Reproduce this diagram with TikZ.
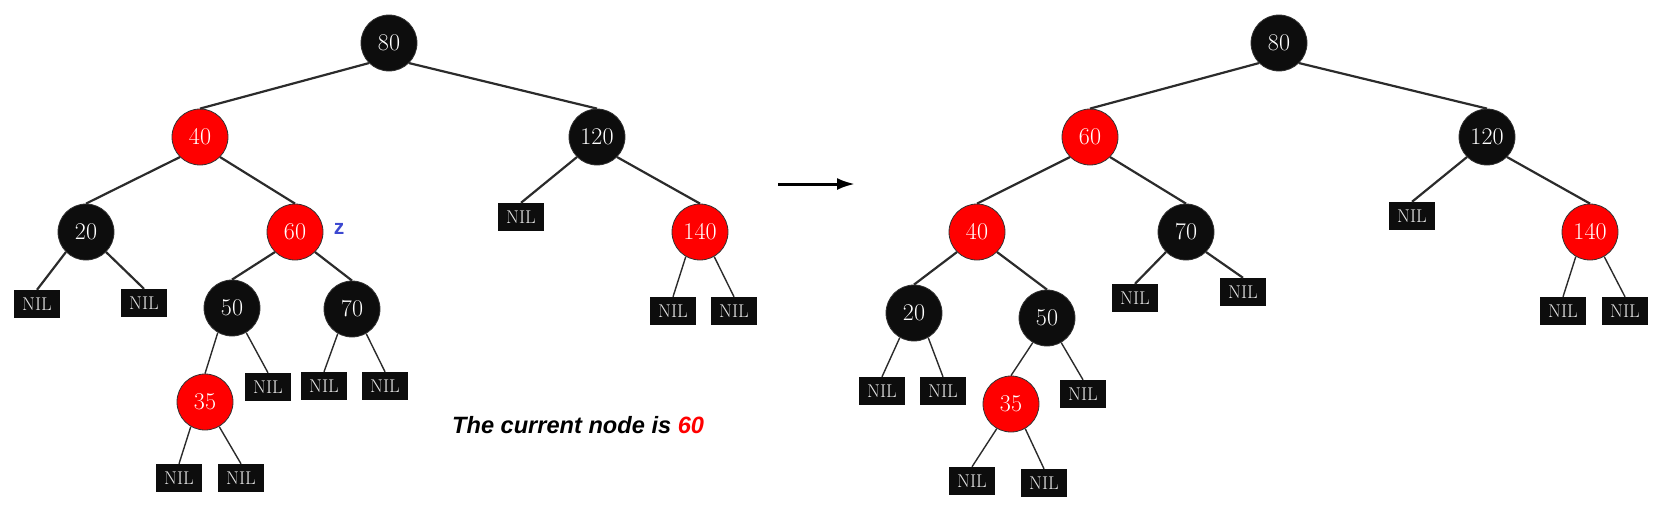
\documentclass[tikz,border=0pt]{standalone}
\usepackage{fontspec}
\newfontfamily\notefont{Liberation Sans}
\usetikzlibrary{positioning,arrows.meta}
\definecolor{nodeblk}{HTML}{0D0D0D}
\definecolor{nodered}{HTML}{FF0000}
\definecolor{zblue}{HTML}{3C48D0}
\definecolor{edgegray}{HTML}{2B2B2B}
\begin{document}
\begin{tikzpicture}[
    x=1pt, y=-1pt,
    rb-node/.style = {circle, draw=black!80, line width=0.8pt, minimum size=56pt, inner sep=0pt, text=white, font=\fontsize{24}{24}\selectfont},
    blk-node/.style = {rb-node, fill=nodeblk},
    red-node/.style = {rb-node, fill=nodered},
    nil-leaf/.style = {rectangle, fill=nodeblk, minimum width=46pt, minimum height=28pt, inner sep=0pt, text=black!10, font=\fontsize{18.5}{18.5}\selectfont},
    thick-edge/.style = {draw=edgegray, line width=2.2pt},
    thin-edge/.style = {draw=edgegray, line width=1.4pt},
    on grid
  ]
  \useasboundingbox (0,0) rectangle (1665,507);

  \node[blk-node] (l80) at (389,43) {80};
  \node[red-node, below left=94pt and 189pt of l80] (l40) {40};
  \node[blk-node, below right=94pt and 208pt of l80] (l120) {120};
  \node[blk-node, below left=95pt and 114pt of l40] (l20) {20};
  \node[red-node, below right=95pt and 95pt of l40] (l60) {60};
  \node[nil-leaf, below left=72pt and 49pt of l20] (l20a) {NIL};
  \node[nil-leaf, below right=71pt and 58pt of l20] (l20b) {NIL};
  \node[blk-node, below left=76pt and 63pt of l60] (l50) {50};
  \node[blk-node, below right=77pt and 57pt of l60] (l70) {70};
  \node[red-node, below left=94pt and 27pt of l50] (l35) {35};
  \node[nil-leaf, below right=79pt and 36pt of l50] (l50b) {NIL};
  \node[nil-leaf, below left=77pt and 28pt of l70] (l70a) {NIL};
  \node[nil-leaf, below right=77pt and 33pt of l70] (l70b) {NIL};
  \node[nil-leaf, below left=76pt and 26pt of l35] (l35a) {NIL};
  \node[nil-leaf, below right=76pt and 36pt of l35] (l35b) {NIL};
  \node[nil-leaf, below left=80pt and 76pt of l120] (l120a) {NIL};
  \node[red-node, below right=95pt and 103pt of l120] (l140) {140};
  \node[nil-leaf, below left=79pt and 27pt of l140] (l140a) {NIL};
  \node[nil-leaf, below right=79pt and 34pt of l140] (l140b) {NIL};
  \node[text=zblue, font=\notefont\bfseries\fontsize{21}{21}\selectfont, right=44pt of l60, yshift=3pt] (zmark) {z};

  \draw[thick-edge] (l80.south west) -- (l40.north);
  \draw[thick-edge] (l80.south east) -- (l120.north);
  \draw[thick-edge] (l40.south west) -- (l20.north);
  \draw[thick-edge] (l40.south east) -- (l60.north);
  \draw[thick-edge] (l20.south west) -- (l20a.north);
  \draw[thick-edge] (l20.south east) -- (l20b.north);
  \draw[thick-edge] (l60.south west) -- (l50.north);
  \draw[thick-edge] (l60.south east) -- (l70.north);
  \draw[thin-edge] (l50.240) -- (l35.north);
  \draw[thin-edge] (l50.300) -- (l50b.north);
  \draw[thin-edge] (l70.240) -- (l70a.north);
  \draw[thin-edge] (l70.300) -- (l70b.north);
  \draw[thin-edge] (l35.240) -- (l35a.north);
  \draw[thin-edge] (l35.300) -- (l35b.north);
  \draw[thick-edge] (l120.south west) -- (l120a.north);
  \draw[thick-edge] (l120.south east) -- (l140.north);
  \draw[thin-edge] (l140.240) -- (l140a.north);
  \draw[thin-edge] (l140.300) -- (l140b.north);

  \coordinate (step-from) at (778,184);
  \coordinate (step-to) at (855,184);
  \draw[-{Latex[length=18pt,width=12pt]}, line width=3pt] (step-from) -- (step-to);

  \node[anchor=base west, inner sep=0pt, font=\notefont\bfseries\itshape\fontsize{23.6}{24}\selectfont] (note) at (452,433) {The current node is \textcolor{nodered}{60}};

  \node[blk-node] (r80) at (1279,43) {80};
  \node[red-node, below left=94pt and 189pt of r80] (r60) {60};
  \node[blk-node, below right=94pt and 208pt of r80] (r120) {120};
  \node[red-node, below left=95pt and 113pt of r60] (r40) {40};
  \node[blk-node, below right=95pt and 96pt of r60] (r70) {70};
  \node[blk-node, below left=81pt and 63pt of r40] (r20) {20};
  \node[blk-node, below right=86pt and 70pt of r40] (r50) {50};
  \node[nil-leaf, below left=66pt and 51pt of r70] (r70a) {NIL};
  \node[nil-leaf, below right=60pt and 57pt of r70] (r70b) {NIL};
  \node[nil-leaf, below left=78pt and 32pt of r20] (r20a) {NIL};
  \node[nil-leaf, below right=78pt and 29pt of r20] (r20b) {NIL};
  \node[red-node, below left=86pt and 36pt of r50] (r35) {35};
  \node[nil-leaf, below right=76pt and 36pt of r50] (r50b) {NIL};
  \node[nil-leaf, below left=77pt and 39pt of r35] (r35a) {NIL};
  \node[nil-leaf, below right=79pt and 33pt of r35] (r35b) {NIL};
  \node[nil-leaf, below left=79pt and 75pt of r120] (r120a) {NIL};
  \node[red-node, below right=95pt and 103pt of r120] (r140) {140};
  \node[nil-leaf, below left=79pt and 27pt of r140] (r140a) {NIL};
  \node[nil-leaf, below right=79pt and 35pt of r140] (r140b) {NIL};

  \draw[thick-edge] (r80.south west) -- (r60.north);
  \draw[thick-edge] (r80.south east) -- (r120.north);
  \draw[thick-edge] (r60.south west) -- (r40.north);
  \draw[thick-edge] (r60.south east) -- (r70.north);
  \draw[thick-edge] (r40.south west) -- (r20.north);
  \draw[thick-edge] (r40.south east) -- (r50.north);
  \draw[thick-edge] (r70.south west) -- (r70a.north);
  \draw[thick-edge] (r70.south east) -- (r70b.north);
  \draw[thin-edge] (r20.240) -- (r20a.north);
  \draw[thin-edge] (r20.300) -- (r20b.north);
  \draw[thin-edge] (r50.240) -- (r35.north);
  \draw[thin-edge] (r50.300) -- (r50b.north);
  \draw[thin-edge] (r35.240) -- (r35a.north);
  \draw[thin-edge] (r35.300) -- (r35b.north);
  \draw[thick-edge] (r120.south west) -- (r120a.north);
  \draw[thick-edge] (r120.south east) -- (r140.north);
  \draw[thin-edge] (r140.240) -- (r140a.north);
  \draw[thin-edge] (r140.300) -- (r140b.north);
\end{tikzpicture}
\end{document}
